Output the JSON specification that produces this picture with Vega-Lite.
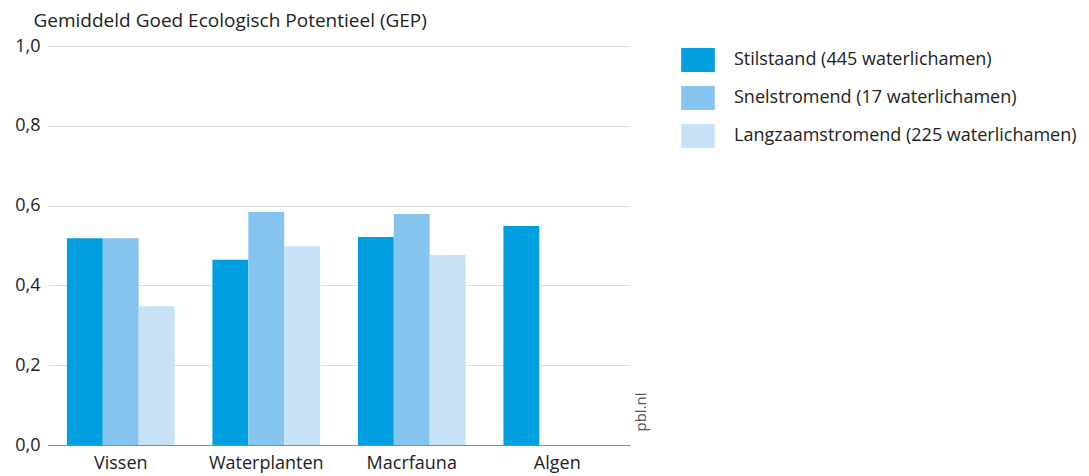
{
  "$schema": "https://vega.github.io/schema/vega-lite/v6.json",
  "width": 582,
  "height": 399,
  "autosize": {"type": "none"},
  "padding": {"left": 48, "top": 46, "right": 459, "bottom": 31},
  "config": {
    "font": "Open Sans",
    "view": {"stroke": null},
    "axis": {"labelFont": "Open Sans", "titleFont": "Open Sans", "labelColor": "#222", "titleColor": "#222"},
    "legend": {"labelFont": "Open Sans"}
  },
  "data": {
    "values": [
      {"categorie": "Vissen", "type": "Stilstaand (445 waterlichamen)", "waarde": 0.518},
      {"categorie": "Vissen", "type": "Snelstromend (17 waterlichamen)", "waarde": 0.518},
      {"categorie": "Vissen", "type": "Langzaamstromend (225 waterlichamen)", "waarde": 0.348},
      {"categorie": "Waterplanten", "type": "Stilstaand (445 waterlichamen)", "waarde": 0.464},
      {"categorie": "Waterplanten", "type": "Snelstromend (17 waterlichamen)", "waarde": 0.584},
      {"categorie": "Waterplanten", "type": "Langzaamstromend (225 waterlichamen)", "waarde": 0.498},
      {"categorie": "Macrfauna", "type": "Stilstaand (445 waterlichamen)", "waarde": 0.521},
      {"categorie": "Macrfauna", "type": "Snelstromend (17 waterlichamen)", "waarde": 0.579},
      {"categorie": "Macrfauna", "type": "Langzaamstromend (225 waterlichamen)", "waarde": 0.476},
      {"categorie": "Algen", "type": "Stilstaand (445 waterlichamen)", "waarde": 0.549}
    ]
  },
  "layer": [
    {
      "mark": {"type": "bar"},
      "encoding": {
        "x": {
          "field": "categorie", "type": "nominal",
          "sort": ["Vissen", "Waterplanten", "Macrfauna", "Algen"],
          "scale": {"paddingInner": 0.26, "paddingOuter": 0.13},
          "axis": {"title": null, "labelAngle": 0, "labelFontSize": 18, "ticks": false, "domainColor": "#888", "domainWidth": 1.2, "labelPadding": 9}
        },
        "xOffset": {
          "field": "type", "type": "nominal",
          "scale": {"domain": ["Stilstaand (445 waterlichamen)", "Snelstromend (17 waterlichamen)", "Langzaamstromend (225 waterlichamen)"], "paddingInner": 0, "paddingOuter": 0}
        },
        "y": {
          "field": "waarde", "type": "quantitative",
          "scale": {"domain": [0, 1]},
          "axis": {
            "title": "Gemiddeld Goed Ecologisch Potentieel (GEP)",
            "titleAngle": 0, "titleAlign": "left", "titleBaseline": "alphabetic",
            "titleX": -15, "titleY": -20, "titleFontSize": 19, "titleFontWeight": "normal",
            "values": [0, 0.2, 0.4, 0.6, 0.8, 1.0],
            "format": ".1f", "labelExpr": "replace(datum.label, '.', ',')",
            "labelFontSize": 18, "labelPadding": 8, "ticks": false, "domain": false,
            "gridColor": "#dddddd", "gridWidth": 1.2
          }
        },
        "color": {
          "field": "type", "type": "nominal",
          "scale": {
            "domain": ["Stilstaand (445 waterlichamen)", "Snelstromend (17 waterlichamen)", "Langzaamstromend (225 waterlichamen)"],
            "range": ["#009fe0", "#86c4f0", "#c7e2f7"]
          },
          "legend": {
            "title": null, "orient": "none", "legendX": 638, "legendY": 2,
            "symbolType": "M-1.4,-1H1.4V1H-1.4Z", "symbolSize": 576, "symbolStrokeWidth": 0, "symbolOpacity": 1,
            "labelFontSize": 18, "labelColor": "#222", "labelOffset": 24, "rowPadding": 14, "padding": 0, "labelLimit": 450
          }
        }
      }
    },
    {
      "mark": {"type": "rule", "opacity": 0},
      "encoding": {
        "y": {
          "datum": 0, "type": "quantitative",
          "axis": {
            "orient": "right", "title": "pbl.nl", "titleAngle": 270, "titleAlign": "left", "titleBaseline": "middle",
            "titleX": 10, "titleY": 385, "titleFontSize": 15, "titleFontWeight": "normal", "titleColor": "#555",
            "labels": false, "ticks": false, "domain": false, "grid": false
          }
        }
      }
    }
  ],
  "resolve": {"axis": {"y": "independent"}}
}
